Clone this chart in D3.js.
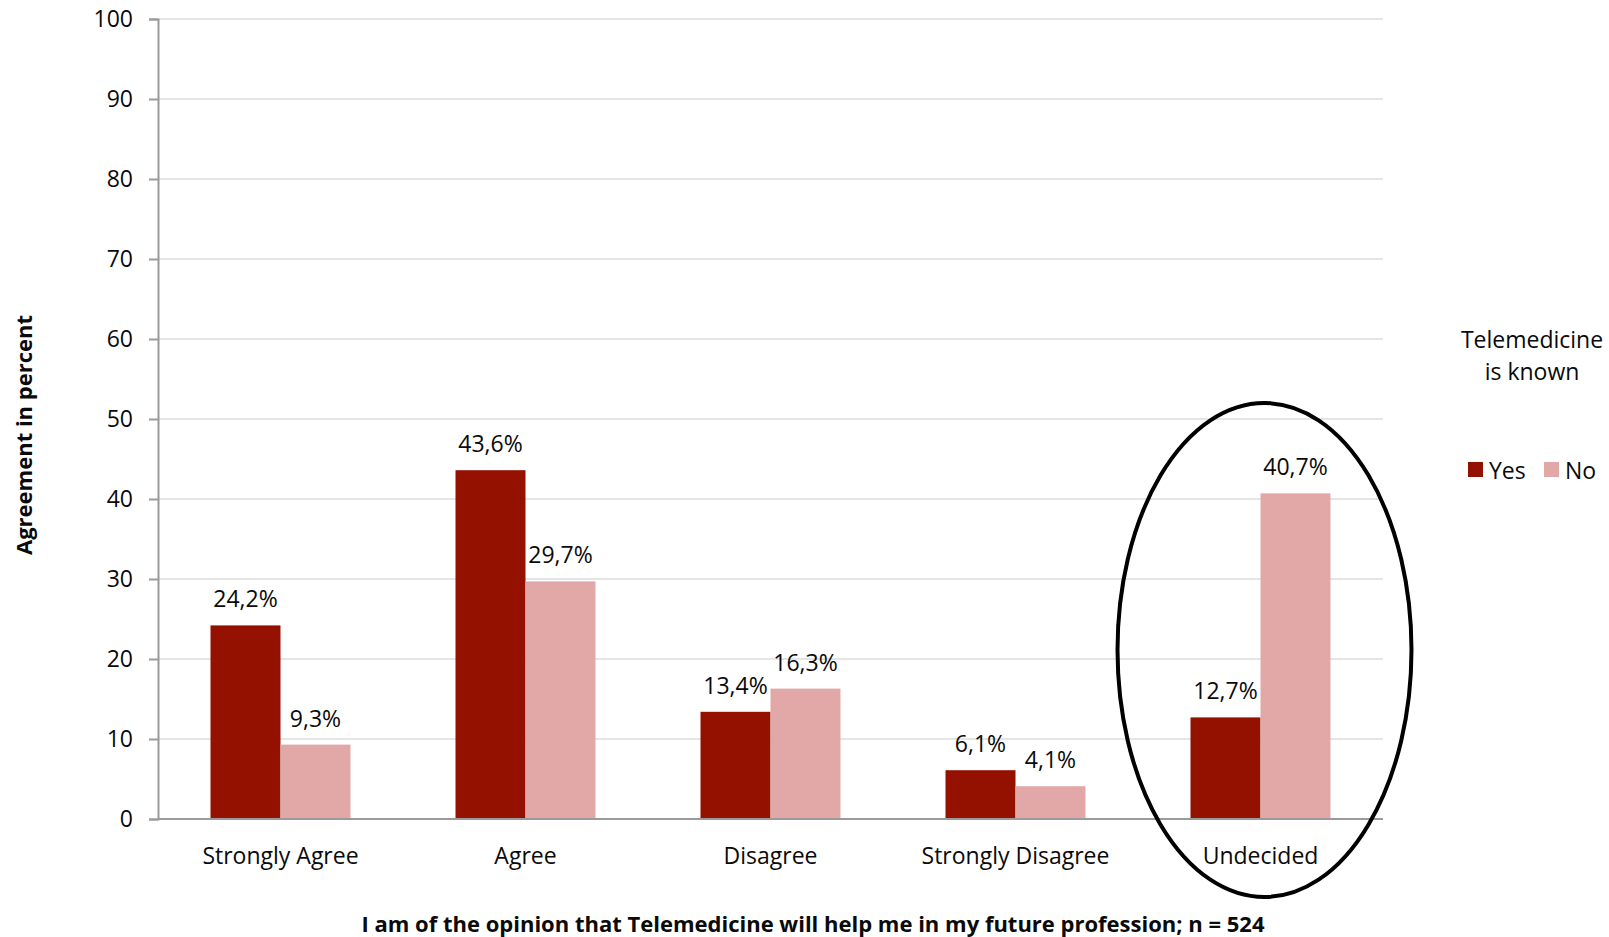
<!DOCTYPE html>
<html>
<head>
<meta charset="utf-8">
<script src="https://cdn.jsdelivr.net/npm/d3@7"></script>
<style>
  body { margin: 0; background: #fff; }
  svg text { font-family: "Open Sans", sans-serif; fill: #0a0a0a; }
</style>
</head>
<body>
<div id="chart"></div>
<script>
// data
const categories = ["Strongly Agree", "Agree", "Disagree", "Strongly Disagree", "Undecided"];
const seriesNames = ["Yes", "No"];
const yesValues = [24.2, 43.6, 13.4, 6.1, 12.7];
const noValues = [9.3, 29.7, 16.3, 4.1, 40.7];
const yTicks = [0, 10, 20, 30, 40, 50, 60, 70, 80, 90, 100];

const COLORS = {Yes: "#941100", No: "#e2a8a8"};
const FONT_SIZE = "23px";
const BOLD_SIZE = "22px";

// chart size
const WIDTH = 1609, HEIGHT = 937;
const PLOT_LEFT = 158, PLOT_RIGHT = 1383, PLOT_TOP = 19, PLOT_BOTTOM = 819;

const svg = d3.select("#chart").append("svg")
    .attr("width", WIDTH)
    .attr("height", HEIGHT);

const x = d3.scaleBand()
    .domain(categories)
    .range([PLOT_LEFT, PLOT_RIGHT])
    .paddingInner(0.4286)
    .paddingOuter(0.2143);

const xSub = d3.scaleBand()
    .domain(seriesNames)
    .range([0, x.bandwidth()]);

const y = d3.scaleLinear()
    .domain([0, 100])
    .range([PLOT_BOTTOM, PLOT_TOP]);

// gridlines
svg.append("g")
    .selectAll("line")
    .data(yTicks.filter(d => d > 0))
    .join("line")
    .attr("x1", PLOT_LEFT)
    .attr("x2", PLOT_RIGHT)
    .attr("y1", d => y(d))
    .attr("y2", d => y(d))
    .attr("stroke", "#dcdcdc")
    .attr("stroke-width", 1.5);

// y axis
const yAxis = svg.append("g")
    .attr("transform", `translate(${PLOT_LEFT},0)`)
    .call(d3.axisLeft(y).tickValues(yTicks).tickSize(9).tickPadding(16));
yAxis.attr("font-family", null).attr("font-size", null);
yAxis.select(".domain").attr("stroke", "#9a9a9a").attr("stroke-width", 2);
yAxis.selectAll(".tick line").attr("stroke", "#9a9a9a").attr("stroke-width", 2);
yAxis.selectAll(".tick text")
    .style("font-size", FONT_SIZE)
    .attr("fill", "#0a0a0a");

// bars
const rows = categories.map((c, i) => ({cat: c, values: [
    {key: "Yes", value: yesValues[i]},
    {key: "No", value: noValues[i]}
]}));

const groups = svg.append("g")
    .selectAll("g")
    .data(rows)
    .join("g")
    .attr("transform", d => `translate(${x(d.cat)},0)`);

groups.selectAll("rect")
    .data(d => d.values)
    .join("rect")
    .attr("x", d => xSub(d.key))
    .attr("width", xSub.bandwidth())
    .attr("y", d => y(d.value))
    .attr("height", d => y(0) - y(d.value))
    .attr("fill", d => COLORS[d.key]);

groups.selectAll("text.val")
    .data(d => d.values)
    .join("text")
    .attr("class", "val")
    .attr("x", d => xSub(d.key) + xSub.bandwidth() / 2)
    .attr("y", d => y(d.value) - 18)
    .attr("text-anchor", "middle")
    .style("font-size", FONT_SIZE)
    .text(d => d.value.toFixed(1).replace(".", ",") + "%");

// x axis baseline
svg.append("line")
    .attr("x1", PLOT_LEFT)
    .attr("x2", PLOT_RIGHT)
    .attr("y1", y(0))
    .attr("y2", y(0))
    .attr("stroke", "#9a9a9a")
    .attr("stroke-width", 2);

// category labels
svg.append("g")
    .selectAll("text")
    .data(categories)
    .join("text")
    .attr("x", d => x(d) + x.bandwidth() / 2)
    .attr("y", y(0) + 45)
    .attr("text-anchor", "middle")
    .style("font-size", FONT_SIZE)
    .text(d => d);

// axis titles
svg.append("text")
    .attr("x", 813)
    .attr("y", 932)
    .attr("text-anchor", "middle")
    .style("font-size", BOLD_SIZE)
    .style("font-weight", "bold")
    .text("I am of the opinion that Telemedicine will help me in my future profession; n = 524");

svg.append("text")
    .attr("transform", "translate(32,435) rotate(-90)")
    .attr("text-anchor", "middle")
    .style("font-size", BOLD_SIZE)
    .style("font-weight", "bold")
    .text("Agreement in percent");

// highlight ellipse round "Undecided"
svg.append("ellipse")
    .attr("cx", x("Undecided") + x.bandwidth() / 2 + 4)
    .attr("cy", 650)
    .attr("rx", 147)
    .attr("ry", 247)
    .attr("fill", "none")
    .attr("stroke", "#000")
    .attr("stroke-width", 4);

// legend
const legend = svg.append("g");
legend.append("text")
    .attr("x", 1532).attr("y", 348)
    .attr("text-anchor", "middle")
    .style("font-size", FONT_SIZE)
    .text("Telemedicine");
legend.append("text")
    .attr("x", 1532).attr("y", 380)
    .attr("text-anchor", "middle")
    .style("font-size", FONT_SIZE)
    .text("is known");

const legendX = {Yes: 1468, No: 1544};
const items = legend.selectAll("g.item")
    .data(seriesNames)
    .join("g")
    .attr("class", "item")
    .attr("transform", d => `translate(${legendX[d]},462)`);
items.append("rect")
    .attr("width", 15).attr("height", 15)
    .attr("fill", d => COLORS[d]);
items.append("text")
    .attr("x", 21).attr("y", 17)
    .style("font-size", FONT_SIZE)
    .text(d => d);
</script>
</body>
</html>
